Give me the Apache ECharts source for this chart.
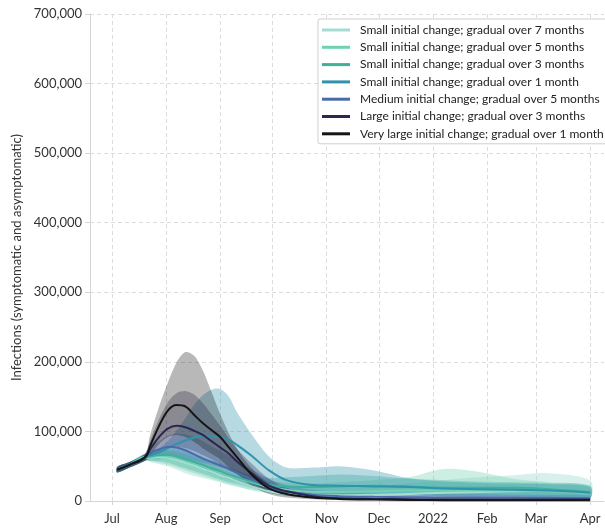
<!DOCTYPE html>
<html>
<head>
<meta charset="utf-8">
<script src="https://cdn.jsdelivr.net/npm/echarts@6.0.0/dist/echarts.min.js"></script>
<style>
  html, body { margin: 0; padding: 0; background: #fff; }
  #chart { width: 605px; height: 530px; }
</style>
</head>
<body>
<div id="chart"></div>
<script>
// Sample days, counted from 1 July 2021
const days = [3, 10, 19, 22, 27, 32, 37, 42, 47, 52, 57, 62, 67, 72, 80, 90, 100, 115, 130, 150, 170, 190, 210, 230, 250, 274];

// Month boundaries (days from 1 July 2021) and their labels
const monthTicks = [0, 31, 62, 92, 123, 153, 184, 215, 243, 274];
const monthLabels = ['Jul', 'Aug', 'Sep', 'Oct', 'Nov', 'Dec', '2022', 'Feb', 'Mar', 'Apr'];

const scenarioNames = [
  'Small initial change; gradual over 7 months',
  'Small initial change; gradual over 5 months',
  'Small initial change; gradual over 3 months',
  'Small initial change; gradual over 1 month',
  'Medium initial change; gradual over 5 months',
  'Large initial change; gradual over 3 months',
  'Very large initial change; gradual over 1 month'
];
const scenarioColors = ['#a6ddd2', '#6fd1b0', '#3fb09a', '#2f93ab', '#4a6aae', '#2b2752', '#151515'];
const bandOpacity = [0.45, 0.35, 0.35, 0.35, 0.3, 0.3, 0.3];

// Infections, in thousands: median and lower/upper interval per scenario
const small7Median = [45, 52, 63, 62, 63, 62, 59, 55, 51, 46, 42, 37, 33, 28, 21, 14, 10, 8, 8, 9, 10, 12, 13, 14, 15, 12];
const small7Low    = [41, 48, 58, 56, 53, 50, 45, 40, 36, 33, 30, 27, 23, 20, 15, 11, 8, 6, 5, 5, 5, 5, 5, 5, 5, 4];
const small7High   = [49, 56, 68, 67, 70, 71, 69, 66, 62, 57, 52, 47, 42, 37, 30, 23, 20, 19, 19, 21, 25, 30, 34, 37, 40, 30];

const small5Median = [45, 52, 63, 63, 65, 64, 62, 58, 54, 50, 45, 41, 37, 33, 27, 20, 16, 13, 13, 14, 15, 15, 15, 15, 14, 12];
const small5Low    = [41, 48, 58, 57, 55, 52, 48, 44, 40, 36, 32, 28, 24, 21, 16, 12, 9, 7, 6, 6, 6, 6, 6, 6, 5, 4];
const small5High   = [49, 56, 68, 68, 72, 73, 72, 69, 65, 61, 56, 51, 46, 42, 36, 29, 26, 25, 27, 30, 34, 46, 42, 32, 27, 22];

const small3Median = [45, 52, 63, 64, 66, 66, 64, 60, 56, 52, 47, 43, 38, 34, 28, 23, 21, 20, 21, 22, 21, 19, 19, 19, 17, 13];
const small3Low    = [41, 48, 58, 58, 57, 55, 51, 47, 43, 39, 35, 31, 27, 24, 19, 14, 12, 10, 9, 9, 8, 7, 7, 7, 6, 5];
const small3High   = [49, 56, 68, 69, 74, 76, 76, 73, 69, 64, 59, 54, 49, 44, 38, 33, 34, 36, 38, 36, 32, 30, 28, 27, 26, 22];

const small1Median = [45, 52, 63, 66, 70, 76, 82, 87, 91, 93, 93, 92, 88, 80, 65, 44, 30, 23, 22, 21, 20, 18, 17, 16, 15, 12];
const small1Low    = [41, 48, 58, 60, 60, 61, 61, 60, 58, 55, 52, 48, 44, 40, 32, 22, 15, 11, 10, 9, 8, 7, 6, 6, 5, 4];
const small1High   = [49, 56, 68, 70, 76, 86, 101, 119, 138, 152, 160, 161, 150, 126, 96, 64, 48, 48, 50, 44, 33, 28, 26, 25, 24, 20];

const mediumMedian = [45, 52, 63, 70, 74, 78, 77, 73, 67, 61, 56, 51, 46, 40, 31, 20, 14, 9, 7, 6, 5.5, 5, 5, 5, 4.5, 4];
const mediumLow    = [41, 48, 58, 63, 63, 62, 59, 55, 50, 45, 40, 36, 31, 27, 20, 12, 8, 5, 3.5, 3, 2.5, 2.5, 2.5, 2.5, 2.2, 2];
const mediumHigh   = [49, 56, 68, 78, 86, 94, 97, 96, 92, 86, 79, 72, 65, 57, 46, 32, 23, 16, 13, 11, 10, 10, 10, 9, 9, 8];

const largeMedian  = [45, 52, 63, 75, 92, 104, 108, 106, 101, 95, 86, 77, 68, 56, 40, 22, 14, 7, 4, 3, 2.5, 2, 2, 2, 2, 2];
const largeLow     = [41, 48, 58, 64, 72, 77, 78, 76, 72, 66, 60, 53, 45, 38, 26, 14, 8, 4, 2.5, 2, 1.5, 1.2, 1.2, 1.2, 1.2, 1.2];
const largeHigh    = [49, 56, 68, 88, 118, 142, 155, 158, 153, 141, 125, 108, 90, 74, 54, 32, 19, 10, 6, 4.5, 4, 4, 4, 4, 4, 3.5];

const vlargeMedian = [45, 52, 63, 80, 108, 130, 138, 136, 124, 112, 102, 92, 77, 62, 38, 18, 10, 5, 3, 2, 1.5, 1.2, 1, 1, 1, 1];
const vlargeLow    = [41, 48, 58, 66, 82, 92, 95, 92, 85, 76, 68, 60, 48, 38, 22, 10, 5, 2.5, 1.5, 1, 0.6, 0.5, 0.4, 0.4, 0.4, 0.4];
const vlargeHigh   = [49, 56, 68, 96, 136, 170, 199, 214, 209, 188, 157, 125, 97, 74, 47, 25, 13, 7, 4, 3, 2.5, 2.5, 2.5, 2.5, 2.5, 2.5];

const medians = [small7Median, small5Median, small3Median, small1Median, mediumMedian, largeMedian, vlargeMedian];
const lows    = [small7Low, small5Low, small3Low, small1Low, mediumLow, largeLow, vlargeLow];
const highs   = [small7High, small5High, small3High, small1High, mediumHigh, largeHigh, vlargeHigh];

const K = 1000;
const FONT = 'Lato, "Noto Sans", sans-serif';

function rgba(hex, a) {
  const n = parseInt(hex.slice(1), 16);
  return 'rgba(' + (n >> 16) + ',' + ((n >> 8) & 255) + ',' + (n & 255) + ',' + a + ')';
}

const series = [];

// Uncertainty bands: one closed polygon per scenario, upper edge then lower edge reversed
scenarioNames.forEach((name, i) => {
  const fill = rgba(scenarioColors[i], bandOpacity[i]);
  series.push({
    type: 'custom', silent: true, z: 1, clip: true,
    data: days.map((d, j) => [d, lows[i][j] * K, highs[i][j] * K]),
    encode: { x: 0, y: [1, 2] },
    renderItem: (params, api) => {
      if (params.dataIndex !== 0) return null;
      const upper = days.map((d, j) => api.coord([d, highs[i][j] * K]));
      const lower = days.map((d, j) => api.coord([d, lows[i][j] * K])).reverse();
      return {
        type: 'polygon',
        shape: { points: upper.concat(lower), smooth: 0.3 },
        style: { fill: fill, stroke: null }
      };
    }
  });
});

// Median lines
scenarioNames.forEach((name, i) => {
  series.push({
    name: name, type: 'line', smooth: 0.35, symbol: 'none', z: 3,
    color: scenarioColors[i],
    lineStyle: { width: 2, color: scenarioColors[i] },
    data: days.map((d, j) => [d, medians[i][j] * K])
  });
});

const chart = echarts.init(document.getElementById('chart'), null, { renderer: 'canvas' });
chart.setOption({
  animation: false,
  backgroundColor: '#fff',
  textStyle: { fontFamily: FONT },
  grid: { left: 90, right: 1, top: 14, bottom: 29 },
  legend: {
    data: scenarioNames,
    orient: 'vertical',
    left: 318, top: 19,
    padding: [5, 14, 4, 4],
    icon: 'rect',
    itemWidth: 28, itemHeight: 3, itemGap: 5.3,
    backgroundColor: '#fff',
    borderColor: '#cfcfcf', borderWidth: 1, borderRadius: 2,
    textStyle: { fontFamily: FONT, fontSize: 12, color: '#222', padding: [0, 0, 0, 5] },
    z: 10
  },
  xAxis: {
    type: 'value', min: -12.6, max: 282,
    axisLine: { show: true, onZero: false, lineStyle: { color: '#d5d5d5' } },
    axisTick: { show: true, customValues: monthTicks, length: 4, lineStyle: { color: '#d5d5d5' } },
    axisLabel: {
      customValues: monthTicks, margin: 11,
      fontFamily: FONT, fontSize: 13, color: '#333',
      formatter: v => monthLabels[monthTicks.indexOf(v)] || ''
    },
    splitLine: { show: true, lineStyle: { color: '#dcdcdc', type: [4, 3], width: 1 } }
  },
  yAxis: {
    type: 'value', min: 0, max: 700000, interval: 100000,
    name: 'Infections (symptomatic and asymptomatic)',
    nameLocation: 'middle', nameGap: 67,
    nameTextStyle: { fontFamily: FONT, fontSize: 13, color: '#333' },
    axisLine: { show: true, onZero: false, lineStyle: { color: '#d5d5d5' } },
    axisTick: { show: true, length: 5, lineStyle: { color: '#d5d5d5' } },
    axisLabel: {
      margin: 8, fontFamily: FONT, fontSize: 13, color: '#333',
      formatter: v => v.toLocaleString('en-US')
    },
    splitLine: { show: true, lineStyle: { color: '#dcdcdc', type: [4, 3], width: 1 } }
  },
  series: series
});
</script>
</body>
</html>
